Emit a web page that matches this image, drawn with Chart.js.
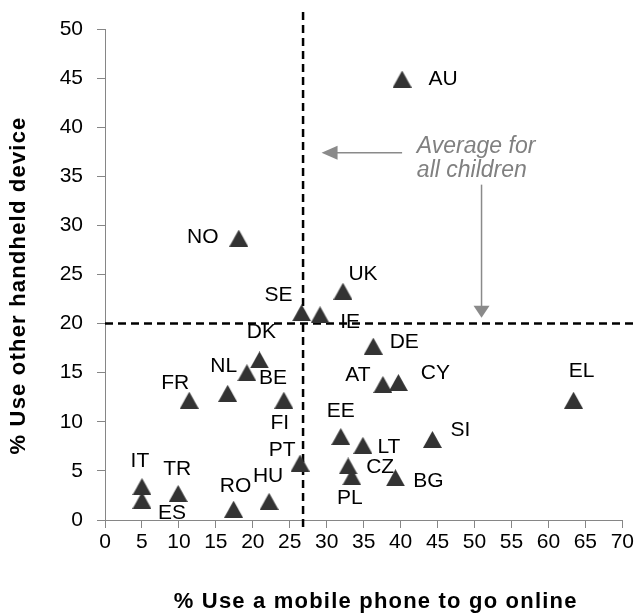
<!DOCTYPE html>
<html><head><meta charset="utf-8">
<script src="https://cdn.jsdelivr.net/npm/chart.js@4.4.0/dist/chart.umd.min.js"></script>
<style>html,body{margin:0;padding:0;background:#fff}</style>
</head><body>
<canvas id="c" width="636" height="614" style="display:block;width:636px;height:614px"></canvas>
<script>
// ---- data ----
const countries     = ['AU','NO','SE','IE','UK','DK','NL','BE','FR','FI','PT','HU','RO','IT','ES','TR','DE','AT','CY','EL','EE','LT','SI','CZ','PL','BG'];
const mobileOnline  = [40.2,18.1,26.6,29.1,32.2,20.9,16.6,19.2,11.4,24.2,26.4,22.2,17.4,5.0,5.0,9.9,36.3,37.6,39.7,63.4,31.9,34.9,44.3,32.9,33.4,39.3];
const otherHandheld = [44.9,28.7,21.1,20.9,23.3,16.3,12.9,15.0,12.2,12.2,5.8,1.9,1.1,3.4,2.0,2.7,17.7,13.8,14.0,12.2,8.5,7.6,8.2,5.5,4.4,4.3];
const avgMobile = 26.8;
const avgHandheld = 20;
const xTitle = '% Use a mobile phone to go online';
const yTitle = '% Use other handheld device';
const noteLines = ['Average for', 'all children'];

// ---- label placement (pixel offsets from marker) ----
const labelDx = [41,-36,-23,30,20,2,-4,26,-14,-4,-18,-1,2,-2,30,-1,31,-25,37,8,0,26,28,32,-2,33];
const labelDy = [0,-1,-18,7,-17,-28,-27,6,-17,23,-13,-25,-23,-25,13,-24,-4,-9,-9,-29,-25,2,-9,1,21,3];

const FONT = '"Liberation Sans", Arial, sans-serif';
const points = mobileOnline.map((x, i) => ({x, y: otherHandheld[i]}));

function triangleMarker(w, h, color) {
  const c = document.createElement('canvas');
  c.width = w; c.height = h;
  const g = c.getContext('2d');
  g.fillStyle = color;
  g.beginPath(); g.moveTo(w / 2, 0); g.lineTo(w, h); g.lineTo(0, h); g.closePath(); g.fill();
  return c;
}
const marker = triangleMarker(19, 17, '#333333');

const refLines = {
  id: 'refLines',
  beforeDatasetsDraw(chart) {
    const {ctx, chartArea: a, scales: {x, y}} = chart;
    ctx.save();
    ctx.strokeStyle = '#000'; ctx.lineWidth = 2.5; ctx.setLineDash([8, 5]);
    const px = x.getPixelForValue(avgMobile);
    ctx.beginPath(); ctx.moveTo(px, a.top - 17); ctx.lineTo(px, a.bottom + 12); ctx.stroke();
    const py = y.getPixelForValue(avgHandheld);
    ctx.beginPath(); ctx.moveTo(a.left, py); ctx.lineTo(a.right + 12, py); ctx.stroke();
    ctx.restore();
  }
};

const pointLabels = {
  id: 'pointLabels',
  afterDatasetsDraw(chart) {
    const ctx = chart.ctx;
    const meta = chart.getDatasetMeta(0);
    ctx.save();
    ctx.font = '21px ' + FONT; ctx.fillStyle = '#000';
    ctx.textAlign = 'center'; ctx.textBaseline = 'middle';
    meta.data.forEach((el, i) => ctx.fillText(countries[i], el.x + labelDx[i], el.y + labelDy[i]));
    ctx.restore();
  }
};

function arrowHead(ctx, tx, ty, dx, dy, len, half) {
  ctx.beginPath();
  ctx.moveTo(tx, ty);
  ctx.lineTo(tx - dx * len - dy * half, ty - dy * len + dx * half);
  ctx.lineTo(tx - dx * len + dy * half, ty - dy * len - dx * half);
  ctx.closePath(); ctx.fill();
}

const note = {
  id: 'note',
  afterDraw(chart) {
    const {ctx, scales: {x, y}} = chart;
    ctx.save();
    ctx.fillStyle = '#808080'; ctx.strokeStyle = '#8a8a8a'; ctx.lineWidth = 1.5;
    ctx.font = 'italic 23px ' + FONT; ctx.textAlign = 'left'; ctx.textBaseline = 'alphabetic';
    const tx = x.getPixelForValue(42.2);
    ctx.fillText(noteLines[0], tx, y.getPixelForValue(37.4));
    ctx.fillText(noteLines[1], tx, y.getPixelForValue(34.9));
    // horizontal arrow
    const ay = y.getPixelForValue(37.4);
    const x0 = x.getPixelForValue(40.2), x1 = x.getPixelForValue(29.3);
    ctx.beginPath(); ctx.moveTo(x0, ay); ctx.lineTo(x1 + 14, ay); ctx.stroke();
    ctx.fillStyle = '#8a8a8a';
    arrowHead(ctx, x1, ay, -1, 0, 16, 7);
    // vertical arrow
    const vx = x.getPixelForValue(50.95);
    const y0 = y.getPixelForValue(34.15), y1 = y.getPixelForValue(20.6);
    ctx.beginPath(); ctx.moveTo(vx, y0); ctx.lineTo(vx, y1 - 11); ctx.stroke();
    arrowHead(ctx, vx, y1, 0, 1, 12, 8);
    ctx.restore();
  }
};

const axisTitles = {
  id: 'axisTitles',
  afterDraw(chart) {
    const {ctx, chartArea: a} = chart;
    ctx.save();
    ctx.font = 'bold 22px ' + FONT; ctx.fillStyle = '#000';
    ctx.letterSpacing = '1.2px';
    ctx.textAlign = 'center'; ctx.textBaseline = 'middle';
    ctx.fillText(xTitle, (a.left + a.right) / 2 + 12, chart.height - 12);
    ctx.translate(19, (a.top + a.bottom) / 2 + 11);
    ctx.rotate(-Math.PI / 2);
    ctx.fillText(yTitle, 0, 0);
    ctx.restore();
  }
};

const axisColor = '#868686';
new Chart(document.getElementById('c'), {
  type: 'scatter',
  data: {
    datasets: [{
      data: points,
      pointStyle: marker,
      pointRadius: 10,
      pointHoverRadius: 10
    }]
  },
  options: {
    responsive: false,
    animation: false,
    events: [],
    layout: {padding: {left: 0, right: 13, top: 29, bottom: 0}},
    plugins: {legend: {display: false}, tooltip: {enabled: false}},
    scales: {
      x: {
        type: 'linear', min: 0, max: 70,
        ticks: {stepSize: 5, color: '#000', font: {family: FONT, size: 21}, padding: 2, maxRotation: 0, autoSkip: false},
        grid: {drawOnChartArea: false, drawTicks: true, tickLength: 8, color: axisColor},
        border: {color: axisColor, width: 1},
        afterFit(s) { s.height = 94; }
      },
      y: {
        type: 'linear', min: 0, max: 50,
        ticks: {stepSize: 5, color: '#000', font: {family: FONT, size: 21}, padding: 14},
        grid: {drawOnChartArea: false, drawTicks: true, tickLength: 8, color: axisColor},
        border: {color: axisColor, width: 1},
        afterFit(s) { s.width = 105; }
      }
    }
  },
  plugins: [refLines, pointLabels, note, axisTitles]
});
</script>
</body></html>
